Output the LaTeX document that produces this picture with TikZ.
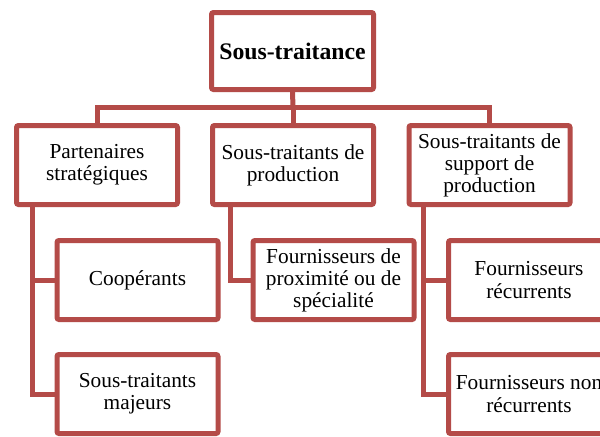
\documentclass[tikz,border=0pt]{standalone}
\usepackage{fontspec}
\setmainfont{Liberation Serif}
\usetikzlibrary{backgrounds}
\definecolor{boxred}{RGB}{180,75,72}
\begin{document}
\begin{tikzpicture}[x=0.75pt,y=-0.75pt,
  box/.style={draw=boxred,line width=3.75pt,fill=white,rounded corners=1.5pt,
    minimum width=161*0.75pt,minimum height=79*0.75pt,align=center,inner sep=2pt,
    font=\fontsize{16pt}{16.6pt}\selectfont},
  topbox/.style={box,minimum width=162*0.75pt,minimum height=77*0.75pt,
    font=\fontsize{17.8pt}{19pt}\selectfont\bfseries},
  link/.style={draw=boxred,line width=3.75pt,line join=miter}]
\useasboundingbox (0,0) rectangle (600,436);
\clip (0,0) rectangle (600,436);
\node[topbox] (top) at (292.5,51) {Sous-traitance};
\node[box] (p1) at (97,165) {Partenaires\\stratégiques};
\node[box] (p2) at (293,165) {Sous-traitants de\\production};
\node[box] (p3) at (489.5,165) {Sous-traitants de\\support de\\production};
\node[box] (c1) at (137.5,280) {Coopérants};
\node[box] (c2) at (137.5,394) {Sous-traitants\\majeurs};
\node[box] (m1) at (333.5,280) {Fournisseurs de\\proximité ou de\\spécialité};
\node[box] (r1) at (529,280) {Fournisseurs\\récurrents};
\node[box] (r2) at (529,394) {Fournisseurs non\\récurrents};
\coordinate (b) at (293,107);
\coordinate (s1) at (32,206);
\coordinate (s2) at (230,206);
\coordinate (s3) at (423,206);
\begin{scope}[on background layer]
\fill[white] (0,0) rectangle (600,436);
\path[link] (top.south) -- (b);
\path[link] (p1.north) |- (b) -| (p3.north);
\path[link] (b) -- (p2.north);
\path[link] (s1) |- (c1.west);
\path[link] (s1) |- (c2.west);
\path[link] (s2) |- (m1.west);
\path[link] (s3) |- (r1.west);
\path[link] (s3) |- (r2.west);
\end{scope}
\end{tikzpicture}
\end{document}
